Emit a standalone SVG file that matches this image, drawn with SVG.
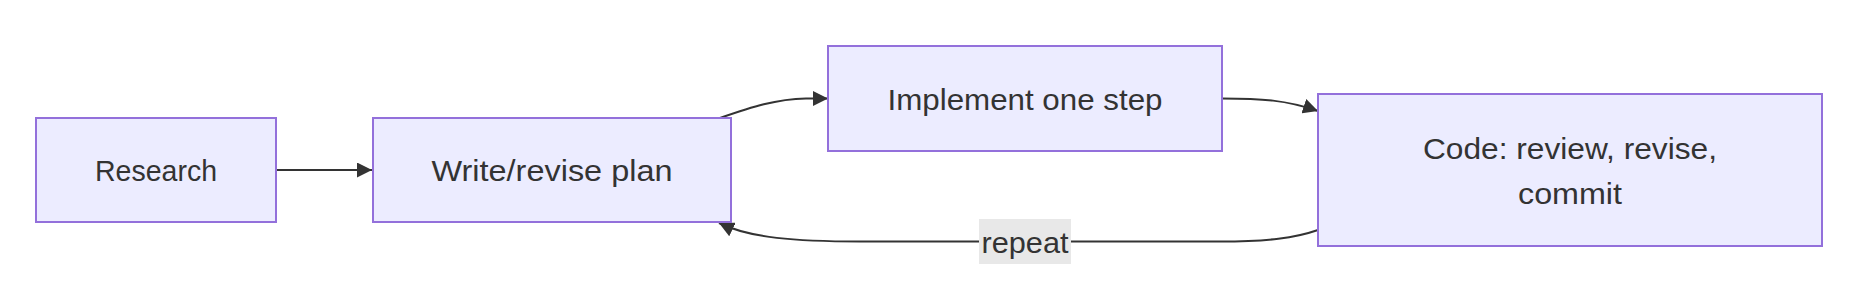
<svg xmlns="http://www.w3.org/2000/svg" width="1870" height="304" viewBox="0 0 1870 304">
<style>
.node rect{fill:#ECECFF;stroke:#9370DB;stroke-width:2}
.node text,.lbl text{font-family:"Liberation Sans",Arial,sans-serif;font-size:30px;fill:#333333;text-anchor:middle}
.edge{fill:none;stroke:#333333;stroke-width:2;marker-end:url(#arrow)}
.lbl rect{fill:#e8e8e8}
</style>
<defs>
<marker id="arrow" viewBox="0 0 10 10" markerUnits="userSpaceOnUse" markerWidth="15" markerHeight="15" refX="10" refY="5" orient="auto">
<path d="M0,0 L10,5 L0,10 z" fill="#333333"/>
</marker>
</defs>
<rect width="1870" height="304" fill="#ffffff"/>
<g id="connectors">
<path class="edge" d="M276,170 L372,170"/>
<path class="edge" d="M720,118 C752,107 776,99 806,98.5 L828,98.5"/>
<path class="edge" d="M1222,98.5 C1262,98.5 1286,100 1318,111"/>
<path class="edge" d="M1318,230 C1295,238 1268,241.5 1220,241.5 L860,241.5 C795,241.5 750,238 719,223"/>
<g class="lbl" id="label-repeat">
<rect x="979" y="219" width="92" height="45"/>
<text x="1025" y="252.5" textLength="87" lengthAdjust="spacingAndGlyphs">repeat</text>
</g>
</g>
<g class="node" id="research">
<rect x="36" y="118" width="240" height="104"/>
<text x="156" y="181" textLength="122" lengthAdjust="spacingAndGlyphs">Research</text>
</g>
<g class="node" id="plan">
<rect x="373" y="118" width="358" height="104"/>
<text x="552" y="181" textLength="241" lengthAdjust="spacingAndGlyphs">Write/revise plan</text>
</g>
<g class="node" id="implement">
<rect x="828" y="46" width="394" height="105"/>
<text x="1025" y="110" textLength="275" lengthAdjust="spacingAndGlyphs">Implement one step</text>
</g>
<g class="node" id="code">
<rect x="1318" y="94" width="504" height="152"/>
<text x="1570" y="159" textLength="294" lengthAdjust="spacingAndGlyphs">Code: review, revise,</text>
<text x="1570" y="204" textLength="104" lengthAdjust="spacingAndGlyphs">commit</text>
</g>
</svg>
